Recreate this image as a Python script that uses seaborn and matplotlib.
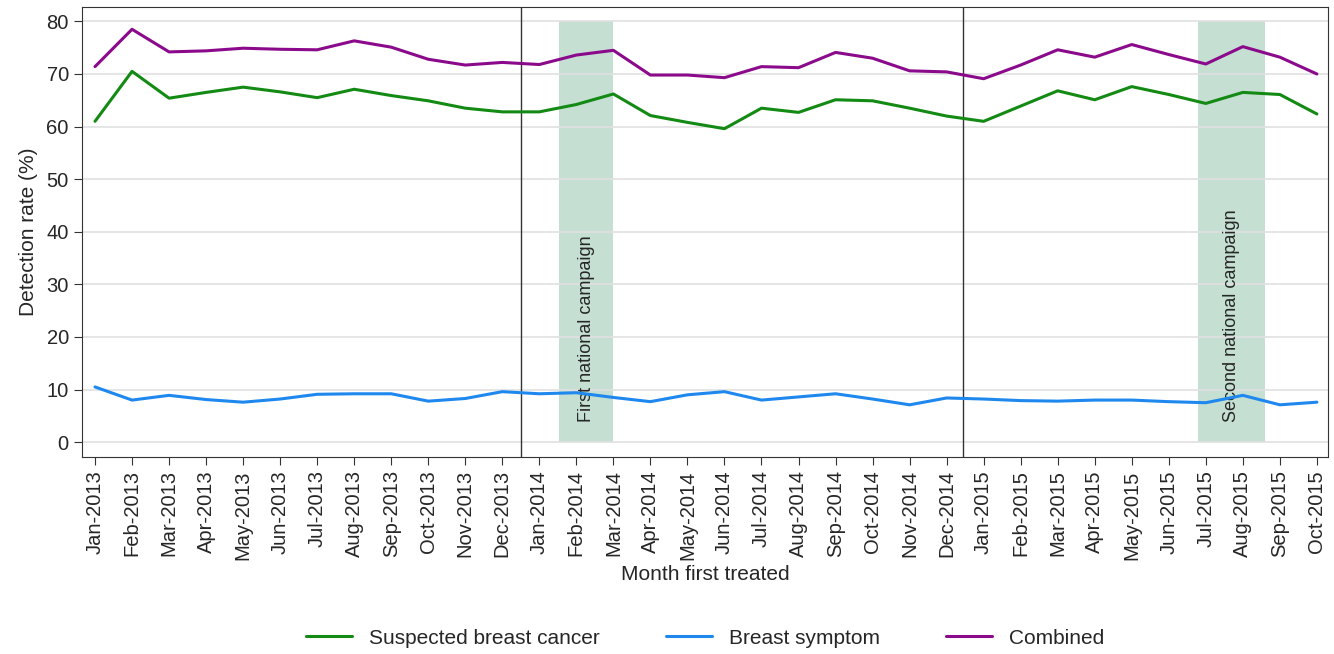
import pandas as pd
import numpy as np
import matplotlib
matplotlib.use("Agg")
import matplotlib.pyplot as plt
import seaborn as sns

months = pd.date_range("2013-01-01", "2015-10-01", freq="MS").strftime("%b-%Y").tolist()

suspected = [61.0, 70.5, 65.4, 66.5, 67.5, 66.6, 65.5, 67.1, 65.9, 64.9, 63.5, 62.8,
             62.8, 64.2, 66.2, 62.1, 60.8, 59.6, 63.5, 62.7, 65.1, 64.9, 63.5, 62.0,
             61.0, 63.9, 66.8, 65.1, 67.6, 66.1, 64.4, 66.5, 66.1, 62.4]
symptom = [10.5, 8.0, 8.9, 8.1, 7.6, 8.2, 9.1, 9.2, 9.2, 7.8, 8.3, 9.6,
           9.2, 9.4, 8.5, 7.7, 9.0, 9.6, 8.0, 8.6, 9.2, 8.2, 7.1, 8.4,
           8.2, 7.9, 7.8, 8.0, 8.0, 7.7, 7.5, 8.9, 7.1, 7.6]
combined = [71.4, 78.5, 74.2, 74.4, 74.9, 74.7, 74.6, 76.3, 75.1, 72.8, 71.7, 72.2,
            71.8, 73.6, 74.5, 69.8, 69.8, 69.3, 71.4, 71.2, 74.1, 73.0, 70.6, 70.4,
            69.1, 71.7, 74.6, 73.2, 75.6, 73.7, 71.9, 75.2, 73.2, 70.0]

series_names = ["Suspected breast cancer", "Breast symptom", "Combined"]
colors = ["#138a13", "#1e88ef", "#8b0a8b"]

df = pd.DataFrame({"idx": np.arange(len(months)),
                   series_names[0]: suspected,
                   series_names[1]: symptom,
                   series_names[2]: combined})
long = df.melt(id_vars="idx", var_name="series", value_name="rate")

sns.set_style("white")
plt.rcParams['font.family'] = ['Liberation Sans', 'DejaVu Sans']

fig = plt.figure(figsize=(13.34, 6.54), dpi=100)
ax = fig.add_axes([0.0615, 0.301, 0.934, 0.688])

# campaign bands and year separators
ax.fill_between([12.54, 14.0], 0, 80, color="#c5dfd3", zorder=0, lw=0)
ax.fill_between([29.8, 31.6], 0, 80, color="#c5dfd3", zorder=0, lw=0)
ax.axvline(11.5, color="#333333", lw=1)
ax.axvline(23.45, color="#333333", lw=1)
ax.text(13.27, 21.5, "First national campaign", rotation=90, ha="center", va="center", fontsize=13)
ax.text(30.7, 24, "Second national campaign", rotation=90, ha="center", va="center", fontsize=13)

sns.lineplot(data=long, x="idx", y="rate", hue="series", palette=colors,
             hue_order=series_names, lw=2.2, ax=ax, zorder=3)

ax.set_xlim(-0.35, 33.3)
ax.set_ylim(-2.85, 82.7)
ax.set_yticks(range(0, 81, 10))
ax.yaxis.grid(True, color="#e0e0e0", lw=1.2)
ax.set_axisbelow(True)
ax.set_xticks(range(len(months)))
ax.set_xticklabels(months, rotation=90, fontsize=14.5)
ax.tick_params(axis="y", labelsize=14.5)
ax.tick_params(axis="both", direction="out", length=6, left=True, bottom=True, color="#333333")
for s in ax.spines.values():
    s.set_color("#333333")
ax.set_xlabel("Month first treated", fontsize=15, labelpad=4)
ax.set_ylabel("Detection rate (%)", fontsize=15, labelpad=6)
ax.legend(loc="lower center", bbox_to_anchor=(0.5, -0.465), ncol=3, frameon=False,
          fontsize=15, handlelength=2.2, columnspacing=3.2)

fig.savefig("out.png", dpi=100)
